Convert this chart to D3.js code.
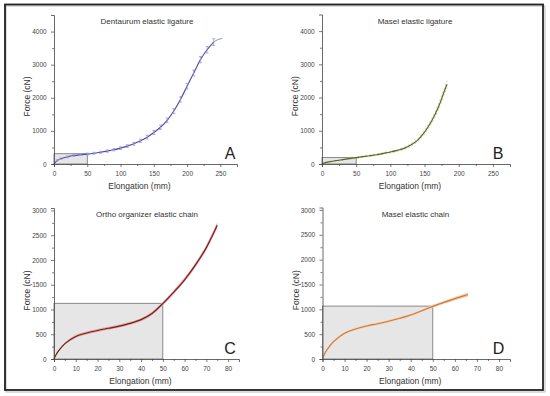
<!DOCTYPE html>
<html>
<head>
<meta charset="utf-8">
<script src="https://cdn.jsdelivr.net/npm/d3@7"></script>
<style>
body { margin: 0; background: #fff; }
svg { font-family: "Liberation Sans", Arial, sans-serif; }
.tick text { fill: #444; }
</style>
</head>
<body>
<script>
// A - Dentaurum elastic ligature (elongation mm, force cN)
var aX = [0, 5, 10, 20, 30, 40, 50, 60, 70, 80, 90, 100, 110, 120, 130, 140, 150, 160, 170, 180, 190, 200, 210, 220, 230, 240];
var aY = [0, 110, 160, 215, 255, 280, 300, 325, 355, 390, 430, 480, 540, 610, 700, 810, 950, 1110, 1320, 1600, 1950, 2350, 2750, 3150, 3450, 3680];
var aErr = [0, 20, 20, 25, 25, 25, 30, 30, 30, 35, 35, 40, 40, 45, 50, 55, 60, 65, 70, 75, 80, 85, 90, 95, 100, 105];
var aFitX = [235, 240, 245, 250, 253];
var aFitY = [3570, 3680, 3745, 3780, 3790];

// B - Masel elastic ligature
var bX = [0, 5, 10, 20, 30, 40, 50, 60, 70, 80, 90, 100, 110, 120, 130, 140, 150, 160, 170, 180, 183];
var bY = [0, 40, 65, 100, 130, 160, 190, 220, 250, 280, 320, 360, 410, 470, 570, 720, 960, 1280, 1700, 2250, 2400];
var bErr = [0, 10, 10, 15, 15, 15, 20, 20, 20, 25, 25, 30, 30, 35, 40, 45, 55, 70, 85, 100, 110];

// C - Ortho organizer elastic chain
var cX = [0, 1, 2, 5, 10, 15, 20, 25, 30, 35, 40, 45, 50, 55, 60, 65, 70, 75];
var cY = [0, 90, 160, 310, 455, 525, 575, 620, 665, 720, 795, 920, 1120, 1350, 1600, 1900, 2250, 2700];
var cErr = [0, 15, 20, 25, 30, 30, 30, 30, 30, 30, 30, 35, 35, 40, 40, 45, 50, 55];

// D - Masel elastic chain
var dX = [0, 1, 2, 5, 10, 15, 20, 25, 30, 35, 40, 45, 50, 55, 60, 66];
var dY = [0, 110, 185, 350, 520, 605, 665, 710, 760, 820, 885, 970, 1060, 1140, 1215, 1300];
var dErr = [0, 15, 20, 25, 25, 25, 25, 25, 25, 25, 25, 25, 30, 30, 35, 40];

// reference box at 50 mm
var boxX = 50;
var boxY = [310, 195, 1125, 1065];

var titles = ["Dentaurum elastic ligature", "Masel elastic ligature", "Ortho organizer elastic chain", "Masel elastic chain"];
var letters = ["A", "B", "C", "D"];

var width = 550, height = 396;

var svg = d3.select("body").append("svg")
    .attr("width", width)
    .attr("height", height);

// outer frame
svg.append("rect")
    .attr("x", 6).attr("y", 6).attr("width", 539).attr("height", 386)
    .attr("fill", "none").attr("stroke", "#bbb").attr("stroke-width", 1);
svg.append("rect")
    .attr("x", 5).attr("y", 4.5).attr("width", 538).attr("height", 385.5)
    .attr("fill", "none").attr("stroke", "#222").attr("stroke-width", 1.8);

// panel layout (pixels)
var panels = [
  {x0: 54, x1: 237, y0: 164, y1: 15, xMax: 275, yMax: 4500, xStep: 50, yStep: 1000,
   xs: aX, ys: aY, err: aErr, color: "#4a4aa8", light: "#9a9ad6", style: "bars"},
  {x0: 322, x1: 510, y0: 164, y1: 14.5, xMax: 275, yMax: 4500, xStep: 50, yStep: 1000,
   xs: bX, ys: bY, err: bErr, color: "#56642c", light: "#d6d68c", style: "dash"},
  {x0: 54, x1: 239, y0: 359, y1: 208, xMax: 85, yMax: 3050, xStep: 10, yStep: 500,
   xs: cX, ys: cY, err: cErr, color: "#7a1c1c", light: "#e2a8a8", style: "band"},
  {x0: 322.5, x1: 510, y0: 359, y1: 207.5, xMax: 85, yMax: 3050, xStep: 10, yStep: 500,
   xs: dX, ys: dY, err: dErr, color: "#cf7a3c", light: "#f2cfae", style: "band"}
];

var curve = d3.curveCatmullRom.alpha(0.5);

panels.forEach(function(p, i){
  var x = d3.scaleLinear().domain([0, p.xMax]).range([p.x0, p.x1]);
  var y = d3.scaleLinear().domain([0, p.yMax]).range([p.y0, p.y1]);
  var g = svg.append("g");

  // grey box up to 50 mm
  g.append("rect")
    .attr("x", x(0)).attr("y", y(boxY[i]))
    .attr("width", x(boxX) - x(0)).attr("height", y(0) - y(boxY[i]))
    .attr("fill", "#e6e6e6").attr("stroke", "#707070").attr("stroke-width", 0.8);

  var pts = p.xs.map(function(v, k){ return {x: v, y: p.ys[k], e: p.err[k]}; });
  var line = d3.line().x(function(d){ return x(d.x); }).y(function(d){ return y(d.y); })
    .curve(curve);

  if (p.style === "band") {
    var area = d3.area().x(function(d){ return x(d.x); })
      .y0(function(d){ return y(d.y - d.e); }).y1(function(d){ return y(d.y + d.e); })
      .curve(curve);
    g.append("path").datum(pts).attr("d", area).attr("fill", p.light);
  }
  if (p.style === "dash") {
    [-1, 1].forEach(function(s){
      g.append("path").datum(pts)
        .attr("d", d3.line().x(function(d){ return x(d.x); })
          .y(function(d){ return y(d.y + s * d.e); }).curve(curve))
        .attr("fill", "none").attr("stroke", p.light).attr("stroke-width", 1)
        .attr("stroke-dasharray", "2,2");
    });
  }

  g.append("path").datum(pts).attr("d", line)
    .attr("fill", "none").attr("stroke", p.color).attr("stroke-width", 1.15);

  if (p.style === "bars") {
    g.selectAll(".bar").data(pts.filter(function(d){ return d.e > 0; })).enter()
      .append("path")
      .attr("d", function(d){
        var cx = x(d.x), t = y(d.y + d.e), b = y(d.y - d.e);
        return "M" + cx + "," + t + "V" + b + "M" + (cx - 1.5) + "," + t + "h3M" + (cx - 1.5) + "," + b + "h3";
      })
      .attr("stroke", p.light).attr("stroke-width", 0.8).attr("fill", "none");
    g.append("path").datum(aFitX.map(function(v, k){ return {x: v, y: aFitY[k]}; }))
      .attr("d", line).attr("fill", "none").attr("stroke", "#777").attr("stroke-width", 0.8);
  }

  // axes
  var xMajor = d3.range(0, p.xMax + 0.01, p.xStep);
  var xMinor = d3.range(p.xStep / 2, p.xMax, p.xStep);
  var yMajor = d3.range(0, p.yMax + 0.01, p.yStep);
  var yMinor = d3.range(p.yStep / 2, p.yMax, p.yStep);

  var xa = g.append("g").attr("transform", "translate(0," + p.y0 + ")")
    .call(d3.axisBottom(x).tickValues(xMajor).tickSize(3).tickFormat(d3.format("d")));
  g.append("g").attr("transform", "translate(0," + p.y0 + ")")
    .call(d3.axisBottom(x).tickValues(xMinor).tickSize(2).tickFormat(""))
    .select(".domain").remove();
  var ya = g.append("g").attr("transform", "translate(" + p.x0 + ",0)")
    .call(d3.axisLeft(y).tickValues(yMajor).tickSize(3).tickFormat(d3.format("d")));
  g.append("g").attr("transform", "translate(" + p.x0 + ",0)")
    .call(d3.axisLeft(y).tickValues(yMinor).tickSize(2).tickFormat(""))
    .select(".domain").remove();

  g.selectAll(".domain").attr("stroke", "#444").attr("stroke-width", 0.8);
  g.selectAll(".tick line").attr("stroke", "#444").attr("stroke-width", 0.7);
  xa.selectAll("text").attr("font-size", 6.5).attr("dy", "0.9em");
  ya.selectAll("text").attr("font-size", 6.5).attr("dx", "-0.2em");

  // labels
  var midX = (p.x0 + p.x1) / 2 - 6;
  g.append("text").attr("x", midX).attr("y", p.y0 + 25)
    .attr("text-anchor", "middle").attr("font-size", 8.5).attr("fill", "#333")
    .text("Elongation (mm)");
  g.append("text")
    .attr("transform", "translate(" + (p.x0 - 24) + "," + ((p.y0 + p.y1) / 2 + 7) + ") rotate(-90)")
    .attr("text-anchor", "middle").attr("font-size", 8.5).attr("fill", "#333")
    .text("Force (cN)");
  g.append("text").attr("x", p.x0 + 93).attr("y", p.y1 + 9)
    .attr("text-anchor", "middle").attr("font-size", 8).attr("fill", "#333")
    .text(titles[i]);
  g.append("text").attr("x", p.x0 + 176).attr("y", p.y0 - 5)
    .attr("text-anchor", "middle").attr("font-size", 16).attr("fill", "#222")
    .text(letters[i]);
});
</script>
</body>
</html>
